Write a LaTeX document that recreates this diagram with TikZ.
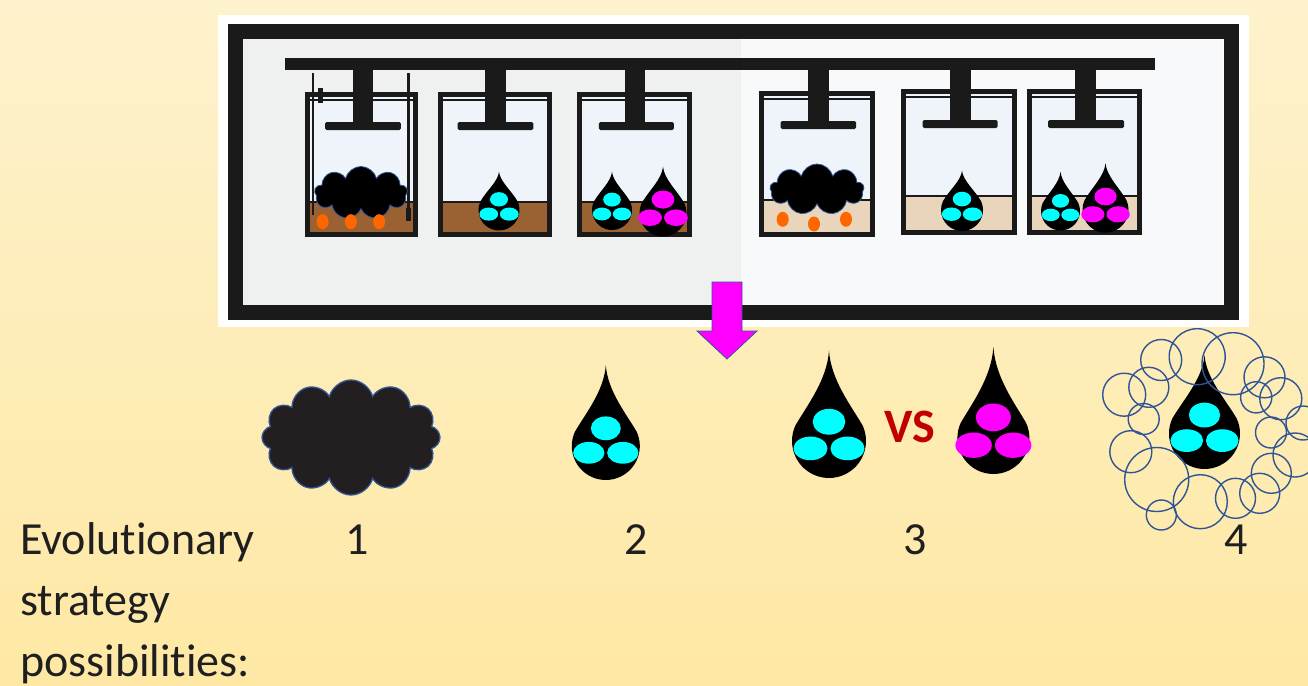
\documentclass[tikz,border=0pt]{standalone}
\usepackage{fontspec}
\setmainfont{Carlito}[Ligatures=NoCommon]
\usetikzlibrary{shapes.symbols}

\definecolor{bgtop}{HTML}{FEF2CD}
\definecolor{bgmid}{HTML}{FDE38F}
\definecolor{bgbot}{HTML}{FEE8A4}
\definecolor{ink}{HTML}{1A1A1A}
\definecolor{panelleft}{HTML}{EFF1F1}
\definecolor{panelright}{HTML}{F7F9FA}
\definecolor{vesselin}{HTML}{EEF4FA}
\definecolor{soilbrown}{HTML}{9A6233}
\definecolor{soilbeige}{HTML}{E8D5BC}
\definecolor{puff}{HTML}{231F20}
\definecolor{edgeblue}{HTML}{2F5597}
\definecolor{seed}{HTML}{FF6600}
\definecolor{cyandot}{HTML}{00FFFF}
\definecolor{magentadot}{HTML}{FF00FF}
\definecolor{vsred}{HTML}{C00000}
\definecolor{textgray}{HTML}{1F1F1F}

\tikzset{
  framepen/.style={draw=ink, line width=15pt},
  wallpen/.style={draw=ink, line width=5pt},
  smallcloud/.style={cloud, cloud puffs=9, cloud ignores aspect, fill=black,
    draw=edgeblue, line width=0.8pt, inner sep=0pt},
  bigcloud/.style={cloud, cloud puffs=12, cloud ignores aspect, fill=puff,
    draw=edgeblue, line width=1.3pt, inner sep=0pt},
  ringpen/.style={draw=edgeblue, line width=1.4pt},
  arrowpen/.style={fill=magentadot, draw=edgeblue, line width=0.8pt, line join=miter},
  label/.style={text=textgray, font=\fontsize{46}{55}\selectfont, inner sep=0pt},
}

% vessel: x1, x2, top, bottom, soil top, soil colour
\newcommand\vessel[6]{%
  \fill[vesselin] (#1,#3) rectangle (#2,#4);
  \fill[#6] (#1,#5) rectangle (#2,#4);
  \draw[ink, line width=2pt] (#1,#5) -- (#2,#5);
  \draw[ink, line width=1.2pt] (#1,#3+8) -- (#2,#3+8);
  \draw[wallpen] (#1+2.5,#3+2.5) rectangle (#2-2.5,#4-2.5);
}
% piston: stem x1, stem x2, plate x1, plate x2, plate top
\newcommand\piston[5]{%
  \fill[ink] (#1,69) rectangle (#2,#5+1);
  \fill[ink, rounded corners=1.5pt] (#3,#5) rectangle (#4,#5+8);
}
% teardrop: centre x, centre y, radius, tip y, dot colour, dot scale
\newcommand\dropshape[6]{%
  \fill[black] (#1,#4)
    .. controls ({#1+0.05*#3},{#4+0.55*(#2-#3-#4)}) and ({#1+0.6*#3},{#2-0.95*#3})
    .. ({#1+0.906*#3},{#2-0.423*#3})
    arc[start angle=-25, end angle=205, radius=#3]
    .. controls ({#1-0.6*#3},{#2-0.95*#3}) and ({#1-0.05*#3},{#4+0.55*(#2-#3-#4)})
    .. cycle;
  \fill[#5] (#1,{#2-0.52*#3*#6}) ellipse[x radius={0.44*#3*#6}, y radius={0.35*#3*#6}];
  \fill[#5] ({#1-0.5*#3*#6},{#2+0.2*#3}) ellipse[x radius={0.46*#3*#6}, y radius={0.32*#3*#6}];
  \fill[#5] ({#1+0.5*#3*#6},{#2+0.2*#3}) ellipse[x radius={0.46*#3*#6}, y radius={0.32*#3*#6}];
}

\begin{document}
\begin{tikzpicture}[x=1pt, y=-1pt]
\useasboundingbox (0,0) rectangle (1308,685);
\shade[top color=bgtop, middle color=bgmid, bottom color=bgbot] (0,0) rectangle (1308,685);

% apparatus panel
\fill[white] (218,15) rectangle (1249,327);
\fill[panelleft] (243,38) rectangle (741,305);
\fill[panelright] (741,38) rectangle (1223,305);
\draw[framepen] (235.5,31.7) rectangle (1231.7,312.5);

% six vessels, rich soil on the left, poor soil on the right
\vessel{305}{418}{92}{237}{202}{soilbrown}
\vessel{437.6}{552.3}{92}{237}{202}{soilbrown}
\vessel{577.4}{691.8}{92}{237}{202}{soilbrown}
\vessel{759.3}{875}{91}{236.7}{200}{soilbeige}
\vessel{901}{1016.7}{89}{235}{196}{soilbeige}
\vessel{1026.7}{1142.3}{89}{235}{196}{soilbeige}

% rods and clamp of the first vessel
\draw[ink, line width=2.5pt] (313,73) -- (313,215);
\draw[ink, line width=2.5pt] (408.5,73) -- (408.5,215);
\fill[ink] (406,208) rectangle (411,221);
\fill[ink] (318,88) rectangle (323,103);

% beam and pistons
\fill[ink] (285,58) rectangle (1155,70);
\piston{352.6}{373.2}{325}{400.8}{122}
\piston{485}{505.8}{457.6}{533.4}{122}
\piston{624.6}{645.3}{598.8}{673.9}{122}
\piston{808.3}{829.3}{780.7}{856}{121}
\piston{950}{970.7}{922.7}{997.7}{120}
\piston{1075}{1096}{1048}{1124}{120}

% vessel contents
\node[smallcloud, minimum width=93pt, minimum height=53pt] (cl1) at (361,193) {};
\foreach \sx/\sy in {322.6/221.7, 350.9/221.7, 379.1/221.7}
  \fill[seed] (\sx,\sy) ellipse[x radius=6, y radius=7.5];
\node[smallcloud, minimum width=94pt, minimum height=51pt] (cl4) at (817,189.5) {};
\foreach \sx/\sy in {782.7/219.3, 814/224, 846/219.3}
  \fill[seed] (\sx,\sy) ellipse[x radius=6, y radius=7.5];

\dropshape{499}{210}{20.5}{171.7}{cyandot}{1}
\dropshape{612}{210}{20}{171.7}{cyandot}{1}
\dropshape{663}{213}{23.5}{166.7}{magentadot}{1.1}
\dropshape{962}{210}{21}{170.7}{cyandot}{1}
\dropshape{1060.5}{211}{19.5}{171.7}{cyandot}{1}
\dropshape{1105.5}{209.7}{23}{163.3}{magentadot}{1.1}

% downward arrow
\draw[arrowpen] (712,282) -- (742,282) -- (742,331) -- (757,331) -- (727,359)
  -- (697,331) -- (712,331) -- cycle;

% strategies
\node[bigcloud, minimum width=178pt, minimum height=115pt] (big) at (351,437.5) {};
\dropshape{605.8}{446}{34}{365}{cyandot}{1}
\dropshape{829}{441}{37}{350.5}{cyandot}{1}
\node[text=vsred, font=\fontsize{48}{55}\selectfont\bfseries, anchor=base, inner sep=0pt] (vs) at (910,442) {VS};
\dropshape{993.4}{438}{36}{346.8}{magentadot}{1.1}
\dropshape{1204.5}{433.5}{35.5}{355}{cyandot}{1}

\begin{scope}
\clip (0,0) rectangle (1308,685);
\foreach \cx/\cy/\r in {1161.2/360/20.5, 1197.2/356.7/28, 1233/363.7/31,
    1264.5/377.3/20.5, 1148.8/387.3/20, 1124.2/394.7/21.5, 1256.2/397.3/15.6,
    1280.8/398.7/21, 1143.7/419/15.5, 1271/432.5/15.5, 1303/423/17,
    1130.8/451.7/21, 1295/455/22, 1156.7/479.5/32, 1271.3/473.3/20,
    1259.7/493.3/20, 1235.5/498.3/20, 1200.3/501.7/27, 1161.3/515/15}
  \draw[ringpen] (\cx,\cy) circle[radius=\r];
\end{scope}

% labels
\node[label, anchor=base west] (t1) at (20,554) {Evolutionary};
\node[label, anchor=base west] (t2) at (20,615) {strategy};
\node[label, anchor=base west] (t3) at (20,676) {possibilities:};
\node[label, anchor=base] (n1) at (357.5,554) {1};
\node[label, anchor=base] (n2) at (636,554) {2};
\node[label, anchor=base] (n3) at (915,554) {3};
\node[label, anchor=base] (n4) at (1236,554) {4};
\end{tikzpicture}
\end{document}
